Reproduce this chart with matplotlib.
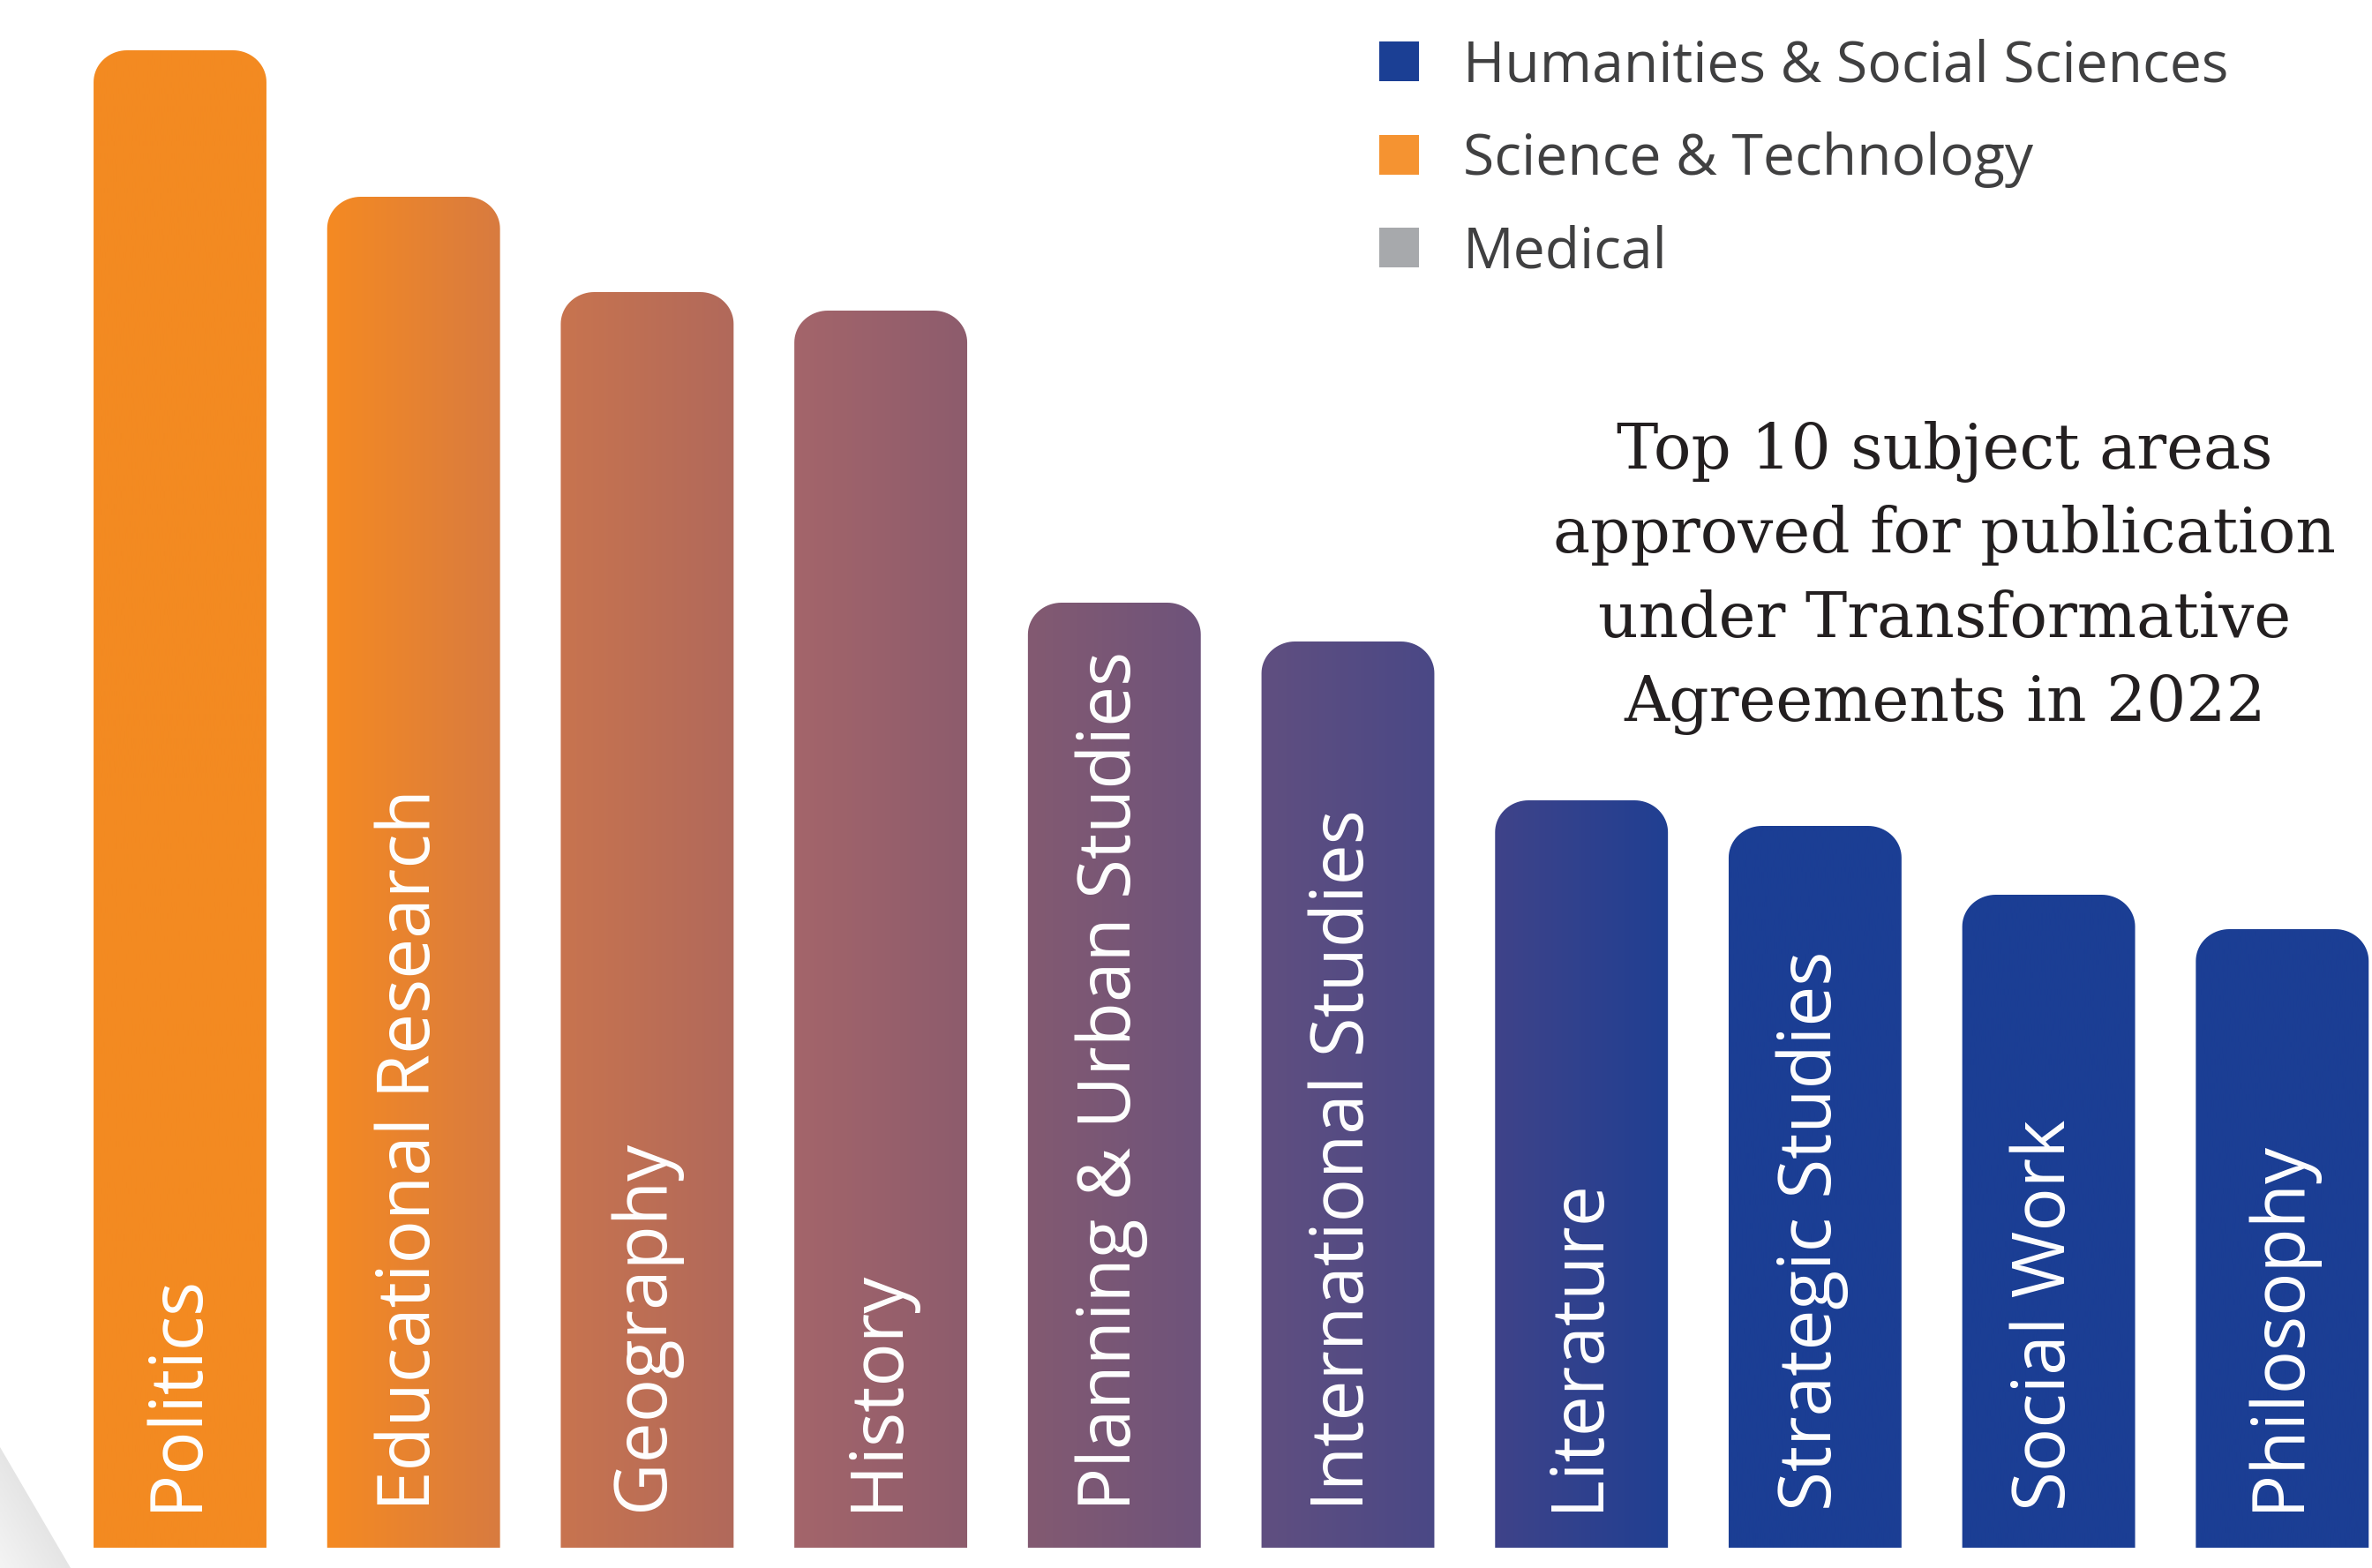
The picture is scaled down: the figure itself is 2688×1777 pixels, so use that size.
import numpy as np
import matplotlib
matplotlib.use("Agg")
import matplotlib.pyplot as plt
from matplotlib.path import Path
from matplotlib.patches import PathPatch, Rectangle, Polygon
from matplotlib.colors import LinearSegmentedColormap, to_rgb

# Data (bar heights, arbitrary units)
subjects = ["Politics", "Educational Research", "Geography", "History",
            "Planning & Urban Studies", "International Studies", "Literature",
            "Strategic Studies", "Social Work", "Philosophy"]
values = [1697, 1531, 1423, 1402, 1071, 1027, 847, 818, 740, 701]

legend_labels = ["Humanities & Social Sciences", "Science & Technology", "Medical"]
legend_colors = ["#1B3F94", "#F59331", "#A7A9AC"]

title_lines = ["Top 10 subject areas", "approved for publication",
               "under Transformative", "Agreements in 2022"]

# colour stops along the bars: (bar index, left colour, right colour)
grad_stops = [(0, "#F38A21", "#F38A21"),
              (1, "#F58A22", "#D87B40"),
              (2, "#C8744F", "#B1695B"),
              (3, "#A4656A", "#8D5C6D"),
              (4, "#835A71", "#6E537B"),
              (5, "#604F80", "#4A4886"),
              (6, "#3F4389", "#203F92"),
              (7, "#1B3E94", "#1B3E94"),
              (8, "#1B3E94", "#1B3E94"),
              (9, "#1B3E94", "#1B3E94")]

W, H = 2688, 1777
DPI = 100
BAR_W = 0.74
PITCH_PX = 264.7

fig = plt.figure(figsize=(W / DPI, H / DPI), dpi=DPI)
fig.patch.set_facecolor("white")
ax = fig.add_axes([0, 0, 1, 1])
ax.set_xlim(-204 / PITCH_PX, (W - 204) / PITCH_PX)
ax.set_ylim(-23, H - 23)
ax.axis("off")

# pixel -> data scale
px_x = 1 / PITCH_PX
px_y = 1.0
rx, ry = 38 * px_x, 36 * px_y


def rounded_top_bar(xc, h):
    x0, x1 = xc - BAR_W / 2, xc + BAR_W / 2
    t = np.linspace(0, np.pi / 2, 20)
    left = np.column_stack([x0 + rx - rx * np.cos(t), h - ry + ry * np.sin(t)])
    right = np.column_stack([x1 - rx + rx * np.sin(t), h - ry + ry * np.cos(t)])
    pts = np.vstack([[x0, 0], left, right, [x1, 0], [x0, 0]])
    codes = [Path.MOVETO] + [Path.LINETO] * (len(pts) - 2) + [Path.CLOSEPOLY]
    return Path(pts, codes)


# build horizontal gradient image
xs, cols = [], []
for i, cl, cr in grad_stops:
    xs += [i - BAR_W / 2, i + BAR_W / 2]
    cols += [to_rgb(cl), to_rgb(cr)]
xs = np.array(xs)
xmin, xmax = xs.min(), xs.max()
xgrid = np.linspace(xmin, xmax, 2000)
img = np.stack([np.interp(xgrid, xs, np.array(cols)[:, k]) for k in range(3)], axis=-1)
img = img[np.newaxis, :, :]

for i, (name, v) in enumerate(zip(subjects, values)):
    path = rounded_top_bar(i, v)
    patch = PathPatch(path, facecolor="none", edgecolor="none")
    ax.add_patch(patch)
    im = ax.imshow(img, extent=(xmin, xmax, 0, max(values)), aspect="auto",
                   interpolation="bilinear", origin="lower", zorder=2)
    im.set_clip_path(patch)
    ax.text(i + 18 * px_x, 42, name, rotation=90, rotation_mode="anchor",
            ha="left", va="baseline", color="white", family="Open Sans",
            fontsize=59, zorder=3)

# decorative grey wedge bottom-left
tri = Polygon([[0, 1 - 1640 / H], [80 / W, 0], [0, 0]], closed=True,
              transform=fig.transFigure, facecolor="none", edgecolor="none")
fig.patches.append(tri)
gcm = LinearSegmentedColormap.from_list("g", ["#f4f4f4", "#d6d6d6"])
gy, gx = np.mgrid[0:1:50j, 0:1:50j]
gimg = (gx + gy) / 2
gax = fig.add_axes([0, 0, 80 / W, 137 / H])
gax.axis("off")
gax.set_xlim(0, 1)
gax.set_ylim(0, 1)
gim = gax.imshow(gimg, cmap=gcm, extent=(0, 1, 0, 1), origin="lower", aspect="auto")
gim.set_clip_path(tri)

# legend
for k, (lab, c) in enumerate(zip(legend_labels, legend_colors)):
    yc = 69.5 + 105.5 * k
    fig.patches.append(Rectangle((1563 / W, 1 - (yc + 22.5) / H), 45 / W, 45 / H,
                                 transform=fig.transFigure, facecolor=c,
                                 edgecolor="none"))
    fig.text(1658 / W, 1 - (yc + 23) / H, lab, ha="left", va="baseline",
             family="Open Sans", fontsize=46.2, color="#404041")

# title
for k, line in enumerate(title_lines):
    fig.text(2204 / W, 1 - (531 + 95.3 * k) / H, line, ha="center", va="baseline",
             family="DejaVu Serif", fontsize=51.0, color="#231F20")

fig.savefig("out.png", dpi=DPI, facecolor="white")
